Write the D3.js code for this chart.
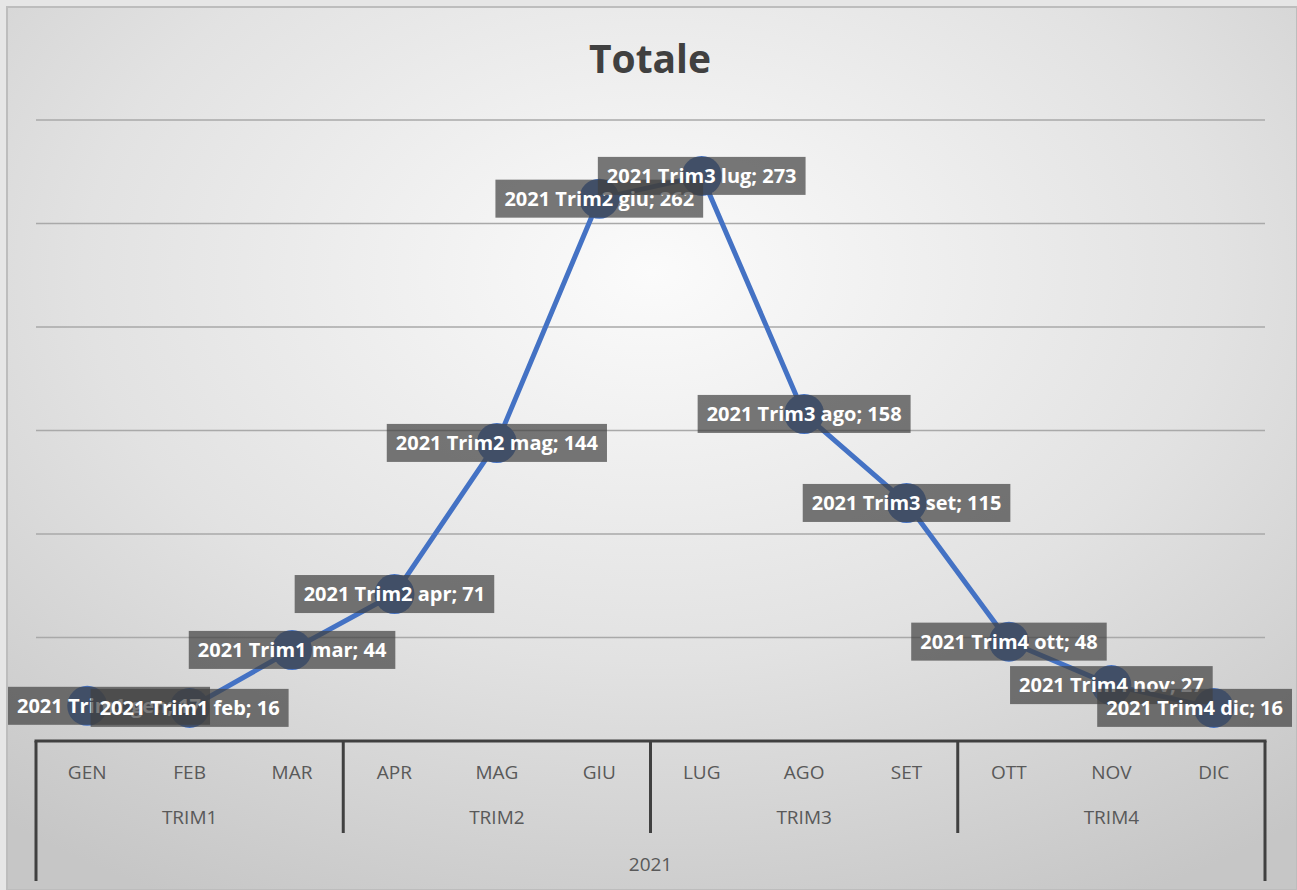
<!DOCTYPE html>
<html>
<head>
<meta charset="utf-8">
<script src="https://cdn.jsdelivr.net/npm/d3@7"></script>
<style>
  body { margin: 0; background: #e6e6e6; }
  svg { display: block; }
</style>
</head>
<body>
<script>
// data
var year = "2021";
var quarters = ["Trim1", "Trim2", "Trim3", "Trim4"];
var months = ["gen", "feb", "mar", "apr", "mag", "giu", "lug", "ago", "set", "ott", "nov", "dic"];
var values = [17, 16, 44, 71, 144, 262, 273, 158, 115, 48, 27, 16];
var yTicks = [0, 50, 100, 150, 200, 250, 300];

var W = 1297, H = 890;
var plot = {left: 36, right: 1265, top: 120, bottom: 741};
var font = "'Open Sans', 'Liberation Sans', sans-serif";

var svg = d3.select("body").append("svg")
    .attr("width", W)
    .attr("height", H);

// radial background like the excel gradient fill
var grad = svg.append("defs").append("radialGradient")
    .attr("id", "bg")
    .attr("cx", "50%").attr("cy", "30%").attr("r", "80%");
grad.append("stop").attr("offset", "0%").attr("stop-color", "#fbfbfb");
grad.append("stop").attr("offset", "55%").attr("stop-color", "#e2e2e2");
grad.append("stop").attr("offset", "100%").attr("stop-color", "#c6c6c6");

svg.append("rect")
    .attr("x", 7).attr("y", 7)
    .attr("width", W - 7).attr("height", H - 7)
    .attr("fill", "url(#bg)")
    .attr("stroke", "#bdbdbd")
    .attr("stroke-width", 2);

var data = months.map(function(m, i) {
    return {month: m, quarter: quarters[Math.floor(i / 3)], value: values[i]};
});

var x = d3.scaleBand().domain(months).range([plot.left, plot.right]).padding(0);
var y = d3.scaleLinear().domain([0, 300]).range([plot.bottom, plot.top]);

function cx(d) { return x(d.month) + x.bandwidth() / 2; }

// title
svg.append("text")
    .attr("x", 650).attr("y", 73)
    .attr("text-anchor", "middle")
    .style("font-family", font)
    .style("font-weight", "bold")
    .style("font-size", "39px")
    .attr("fill", "#404040")
    .text("Totale");

// gridlines
svg.append("g").selectAll("line")
    .data(yTicks.slice(1))
    .join("line")
    .attr("x1", plot.left).attr("x2", plot.right)
    .attr("y1", function(d) { return y(d); })
    .attr("y2", function(d) { return y(d); })
    .attr("stroke", "#a9a9a9")
    .attr("stroke-width", 1.5);

// multi level category axis
var axis = svg.append("g");
axis.append("line")
    .attr("x1", plot.left - 1.5).attr("x2", plot.right + 1.5)
    .attr("y1", plot.bottom).attr("y2", plot.bottom)
    .attr("stroke", "#404040").attr("stroke-width", 3);

var qEdges = d3.range(quarters.length + 1).map(function(i) {
    return i < quarters.length ? x(months[i * 3]) : plot.right;
});
axis.selectAll(".qsep")
    .data(qEdges)
    .join("line")
    .attr("class", "qsep")
    .attr("x1", function(d) { return d; })
    .attr("x2", function(d) { return d; })
    .attr("y1", plot.bottom)
    .attr("y2", function(d, i) { return (i === 0 || i === quarters.length) ? 881 : 833; })
    .attr("stroke", "#404040").attr("stroke-width", 3);

axis.selectAll(".mlab")
    .data(data)
    .join("text")
    .attr("class", "mlab")
    .attr("x", cx)
    .attr("y", 779)
    .attr("text-anchor", "middle")
    .style("font-family", font)
    .style("font-size", "19px")
    .attr("fill", "#595959")
    .text(function(d) { return d.month.toUpperCase(); });

axis.selectAll(".qlab")
    .data(quarters)
    .join("text")
    .attr("class", "qlab")
    .attr("x", function(d, i) { return (qEdges[i] + qEdges[i + 1]) / 2; })
    .attr("y", 824)
    .attr("text-anchor", "middle")
    .style("font-family", font)
    .style("font-size", "19px")
    .attr("fill", "#595959")
    .text(function(d) { return d.toUpperCase(); });

axis.append("text")
    .attr("x", (plot.left + plot.right) / 2)
    .attr("y", 871)
    .attr("text-anchor", "middle")
    .style("font-family", font)
    .style("font-size", "19px")
    .attr("fill", "#595959")
    .text(year);

// the line and the markers
svg.append("path")
    .datum(data)
    .attr("fill", "none")
    .attr("stroke", "#4472c4")
    .attr("stroke-width", 5)
    .attr("stroke-linejoin", "round")
    .attr("d", d3.line().x(cx).y(function(d) { return y(d.value); }));

svg.append("g").selectAll("circle")
    .data(data)
    .join("circle")
    .attr("cx", cx)
    .attr("cy", function(d) { return y(d.value); })
    .attr("r", 20)
    .attr("fill", "#4472c4");

// data labels, centred on the point and kept inside the chart
var labels = svg.append("g").selectAll("g")
    .data(data)
    .join("g");

labels.each(function(d) {
    var g = d3.select(this);
    var box = g.append("rect");
    var t = g.append("text")
        .attr("text-anchor", "middle")
        .style("font-family", font)
        .style("font-weight", "bold")
        .style("font-size", "20px")
        .attr("fill", "#ffffff")
        .text(year + " " + d.quarter + " " + d.month + "; " + d.value);
    var w = t.node().getComputedTextLength() + 18;
    var left = cx(d) - w / 2;
    left = Math.max(8, Math.min(1292 - w, left));
    var cy = y(d.value);
    box.attr("x", left).attr("y", cy - 19)
        .attr("width", w).attr("height", 38)
        .attr("fill", "#404040")
        .attr("fill-opacity", 0.7);
    t.attr("x", left + w / 2).attr("y", cy + 7);
});
</script>
</body>
</html>
